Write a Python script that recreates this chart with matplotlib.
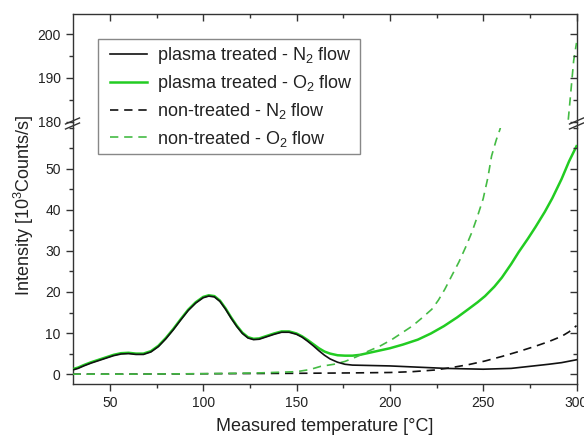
import matplotlib
matplotlib.use("Agg")
import matplotlib.pyplot as plt
from matplotlib.lines import Line2D
from matplotlib.patches import Rectangle
from matplotlib.ticker import MultipleLocator

plt.rcParams['font.family'] = ['Liberation Sans', 'DejaVu Sans']
plt.rcParams['mathtext.fontset'] = 'custom'
plt.rcParams['mathtext.rm'] = 'Liberation Sans'
plt.rcParams['mathtext.it'] = 'Liberation Sans:italic'

# ---------------- data ----------------
T_pl_N2 = [30, 33, 36, 40, 44, 48, 52, 56, 60, 64, 68, 72, 76, 80, 84, 88, 92, 96, 100,
           103, 106, 109, 112, 115, 118, 121, 124, 127, 130, 134, 138, 142, 146, 150,
           153, 156, 159, 162, 165, 168, 172, 176, 180, 190, 200, 215, 230, 250, 265,
           275, 285, 292, 300]
pl_N2 = [1.0, 1.4, 2.0, 2.7, 3.3, 3.9, 4.5, 4.9, 5.0, 4.8, 4.8, 5.4, 6.7, 8.6, 10.8,
         13.2, 15.5, 17.3, 18.6, 19.0, 18.8, 17.7, 15.8, 13.6, 11.6, 9.9, 8.8, 8.4, 8.5,
         9.1, 9.7, 10.2, 10.2, 9.7, 9.0, 8.0, 6.9, 5.7, 4.6, 3.7, 2.9, 2.4, 2.2, 2.1,
         2.0, 1.7, 1.4, 1.2, 1.4, 1.9, 2.4, 2.8, 3.5]

T_pl_O2 = [30, 33, 36, 40, 44, 48, 52, 56, 60, 64, 68, 72, 76, 80, 84, 88, 92, 96, 100,
           103, 106, 109, 112, 115, 118, 121, 124, 127, 130, 134, 138, 142, 146, 150,
           153, 156, 159, 162, 165, 168, 172, 176, 180, 184, 188, 194, 200, 207, 215,
           222, 229, 236, 242, 247, 251, 256, 260, 265, 269, 274, 278, 283, 287, 292,
           296, 300]
pl_O2 = [1.2, 1.6, 2.2, 2.9, 3.5, 4.1, 4.7, 5.1, 5.2, 5.0, 5.0, 5.6, 6.9, 8.8, 11.0,
         13.4, 15.7, 17.5, 18.8, 19.2, 19.0, 17.9, 16.0, 13.8, 11.8, 10.1, 9.0, 8.6,
         8.7, 9.3, 9.9, 10.4, 10.4, 9.9, 9.2, 8.3, 7.3, 6.3, 5.5, 5.0, 4.6, 4.5, 4.5,
         4.7, 5.1, 5.7, 6.3, 7.2, 8.4, 9.9, 11.7, 13.8, 15.8, 17.5, 19.0, 21.3, 23.5,
         26.8, 29.7, 33.0, 35.8, 39.5, 42.8, 47.5, 51.8, 55.5]

T_nt_N2 = [30, 60, 100, 150, 180, 200, 212, 224, 233, 242, 251, 260, 269, 278, 285,
           292, 296, 300]
nt_N2 = [0.0, 0.0, 0.1, 0.2, 0.3, 0.4, 0.6, 1.0, 1.6, 2.3, 3.2, 4.3, 5.5, 6.8, 7.9,
         9.2, 10.3, 11.8]

T_nt_O2 = [30, 60, 100, 130, 150, 157, 163, 170, 176, 182, 188, 195, 201, 206, 212,
           217, 222.5, 226, 229.5, 233, 237, 240.5, 244, 247, 250, 252.5, 254.5, 257,
           259, 270, 280, 290, 295.5, 297, 298.5, 300]
nt_O2 = [0.0, 0.0, 0.1, 0.3, 0.6, 1.1, 1.9, 2.4, 3.1, 4.2, 5.5, 6.9, 8.4, 9.9, 11.7,
         13.6, 15.8, 18.0, 20.7, 23.8, 27.3, 30.8, 34.6, 38.5, 42.7, 47.8, 53.1, 57.0,
         59.6, 80.0, 110.0, 150.0, 180.0, 187.0, 194.0, 198.0]

labels = ["plasma treated - N$_2$ flow", "plasma treated - O$_2$ flow",
          "non-treated - N$_2$ flow", "non-treated - O$_2$ flow"]

x_ticks = [50, 100, 150, 200, 250, 300]
low_yticks = [0, 10, 20, 30, 40, 50]
up_yticks = [180, 190, 200]

# ---------------- figure ----------------
W, H = 584, 443
fig = plt.figure(figsize=(W / 100, H / 100), dpi=100)
left = 72.5 / W
width = (576.5 - 72.5) / W
ax_lo = fig.add_axes([left, 1 - 384 / H, width, (384 - 127.7) / H])
ax_up = fig.add_axes([left, 1 - 121.7 / H, width, (121.7 - 14) / H], sharex=ax_lo)

black = '#111111'
green = '#22cc22'
green_d = '#44bb44'
dash = (0, (5, 3.5))

for ax in (ax_lo, ax_up):
    ax.plot(T_pl_O2, pl_O2, color=green, lw=1.8, zorder=3)
    ax.plot(T_pl_N2, pl_N2, color=black, lw=1.2, zorder=4)
    ax.plot(T_nt_N2, nt_N2, color=black, lw=1.2, linestyle=dash, zorder=3)
    ax.plot(T_nt_O2, nt_O2, color=green_d, lw=1.2, linestyle=dash, zorder=3)
    for s in ax.spines.values():
        s.set_linewidth(1.0)
        s.set_color('#333333')
    ax.tick_params(colors='#333333', labelcolor='#222222', labelsize=10,
                   width=1.0, length=5)
    ax.tick_params(which='minor', width=1.0, length=3, colors='#333333')

ax_lo.set_xlim(30, 300)
ax_lo.set_ylim(-2.4, 60)
ax_up.set_ylim(180, 204.6)

ax_lo.set_xticks(x_ticks)
ax_lo.xaxis.set_minor_locator(MultipleLocator(25))
ax_lo.set_yticks(low_yticks)
ax_lo.yaxis.set_minor_locator(MultipleLocator(5))
ax_up.set_yticks(up_yticks)
ax_up.yaxis.set_minor_locator(MultipleLocator(5))

ax_lo.spines['top'].set_visible(False)
ax_up.spines['bottom'].set_visible(False)

ax_lo.tick_params(axis='x', which='both', direction='out', top=False, bottom=True)
ax_lo.tick_params(axis='y', which='both', direction='out', left=True, right=False)
ax_up.tick_params(axis='x', which='both', direction='in', top=True, bottom=False,
                  labelbottom=False, labeltop=False)
ax_up.tick_params(axis='y', which='both', direction='out', left=True, right=False)

# right-side inward ticks via twin axes
for ax in (ax_lo, ax_up):
    tw = ax.twinx()
    tw.set_ylim(ax.get_ylim())
    tw.set_yticks(ax.get_yticks())
    tw.yaxis.set_minor_locator(MultipleLocator(5))
    tw.tick_params(axis='y', which='both', direction='in', right=True,
                   labelright=False, colors='#333333', width=1.0)
    tw.tick_params(axis='y', which='major', length=5)
    tw.tick_params(axis='y', which='minor', length=3)
    for s in tw.spines.values():
        s.set_visible(False)

ax_lo.set_xlabel("Measured temperature [°C]", fontsize=13, color='#222222', labelpad=6)
fig.text(24 / W, 1 - 205.5 / H, "Intensity [10$^3$Counts/s]", rotation=90,
         ha='center', va='center', fontsize=13, color='#222222')

# spine continuation and break marks
for xp in (72.5, 576.5):
    fig.add_artist(Line2D([xp / W, xp / W], [1 - 127.7 / H, 1 - 121.7 / H],
                          transform=fig.transFigure, color='#333333', lw=1.0))
    for dy in (0, 5):
        y0 = 1 - (129 - dy) / H
        fig.add_artist(Line2D([(xp - 7) / W, (xp + 7) / W], [y0, y0 + 6 / H],
                              transform=fig.transFigure, color='#333333', lw=1.0))

# legend frame drawn separately
fig.add_artist(Rectangle((98 / W, 1 - 154 / H), (360 - 98) / W, (154 - 39) / H,
                         transform=fig.transFigure, facecolor='white',
                         edgecolor='#888888', lw=1.0, zorder=4))

handles = [Line2D([], [], color=black, lw=1.2),
           Line2D([], [], color=green, lw=1.8),
           Line2D([], [], color=black, lw=1.2, linestyle=dash),
           Line2D([], [], color=green_d, lw=1.2, linestyle=dash)]
leg = fig.legend(handles, labels, loc='upper left', bbox_to_anchor=(110 / W, 1 - 45 / H),
                 bbox_transform=fig.transFigure, borderaxespad=0, fontsize=13,
                 frameon=False, handlelength=2.05, handletextpad=0.55,
                 labelspacing=0.4, borderpad=0.0)
leg.set_zorder(5)
for t in leg.get_texts():
    t.set_color('#222222')

fig.savefig("out.png", dpi=100)
